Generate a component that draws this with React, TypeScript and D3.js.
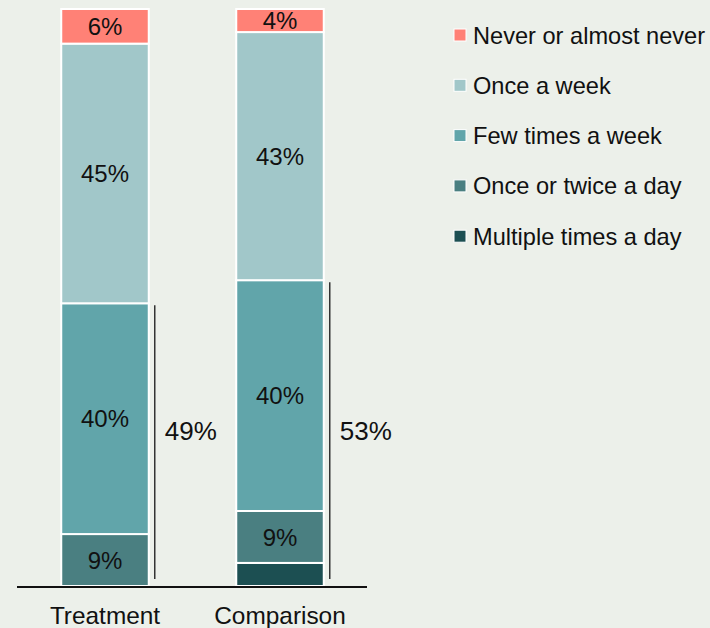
import React, { useEffect, useRef } from 'react'
import * as d3 from 'd3'

// groups and stacked shares (%), bottom to top
const groups = ['Treatment', 'Comparison']
const categories = [
  'Multiple times a day',
  'Once or twice a day',
  'Few times a week',
  'Once a week',
  'Never or almost never',
]
const colors = ['#1c4f52', '#4a7f81', '#61a5aa', '#a1c7c9', '#ff8176']
const treatment = [0, 9, 40, 45, 6]
const comparison = [4, 9, 40, 43, 4]
// how many bottom categories are summed in the bracket
const bracketCount = 3

export default function App() {
  const svgRef = useRef<SVGSVGElement>(null)

  useEffect(() => {
    const width = 710
    const height = 628
    const font = '"Liberation Sans", Arial, sans-serif'

    const svg = d3.select(svgRef.current)
    svg.selectAll('*').remove()
    svg.attr('width', width).attr('height', height).style('display', 'block')

    svg.append('rect').attr('width', width).attr('height', height).attr('fill', '#ecf0ea')

    const x = d3.scaleBand().domain(groups).range([17.5, 367.5]).paddingInner(0.5).paddingOuter(0.25)
    const y = d3.scaleLinear().domain([0, 100]).range([586, 9])

    const rows = groups.map((g, gi) => {
      const vals = gi === 0 ? treatment : comparison
      const row: any = { group: g }
      categories.forEach((c, i) => (row[c] = vals[i]))
      return row
    })
    const series = d3.stack().keys(categories)(rows)

    const layer = svg
      .selectAll('g.layer')
      .data(series)
      .enter()
      .append('g')
      .attr('class', 'layer')
      .attr('fill', (_, i) => colors[i])

    layer
      .selectAll('rect')
      .data((s) => s.map((d) => ({ d, key: s.key })))
      .enter()
      .filter((p) => p.d[1] - p.d[0] > 0)
      .append('rect')
      .attr('x', (p) => x(p.d.data.group as any)!)
      .attr('width', x.bandwidth())
      .attr('y', (p) => y(p.d[1]))
      .attr('height', (p) => y(p.d[0]) - y(p.d[1]))
      .attr('stroke', '#ffffff')
      .attr('stroke-width', 2)

    layer
      .selectAll('text')
      .data((s) => s.map((d) => ({ d, key: s.key })))
      .enter()
      .filter((p) => p.d[1] - p.d[0] >= 5 || (p.d[1] - p.d[0] >= 4 && p.key === categories[4]))
      .append('text')
      .attr('x', (p) => x(p.d.data.group as any)! + x.bandwidth() / 2)
      .attr('y', (p) => (y(p.d[0]) + y(p.d[1])) / 2)
      .attr('dy', '0.36em')
      .attr('text-anchor', 'middle')
      .attr('fill', '#111')
      .style('font-family', font)
      .style('font-size', '24px')
      .text((p) => `${p.d[1] - p.d[0]}%`)

    // brackets
    groups.forEach((g, gi) => {
      const vals = gi === 0 ? treatment : comparison
      const total = d3.sum(vals.slice(0, bracketCount))
      const lx = x(g)! + x.bandwidth() + 6
      svg
        .append('line')
        .attr('x1', lx)
        .attr('x2', lx)
        .attr('y1', y(total) + 2)
        .attr('y2', y(0) - 7)
        .attr('stroke', '#333')
        .attr('stroke-width', 1.5)
      svg
        .append('text')
        .attr('x', lx + 10)
        .attr('y', y(27))
        .attr('dy', '0.36em')
        .attr('fill', '#111')
        .style('font-family', font)
        .style('font-size', '26px')
        .text(`${total}%`)
    })

    // baseline
    svg
      .append('line')
      .attr('x1', 17)
      .attr('x2', 367)
      .attr('y1', y(0) + 1)
      .attr('y2', y(0) + 1)
      .attr('stroke', '#111')
      .attr('stroke-width', 2)

    // group labels
    svg
      .selectAll('text.glabel')
      .data(groups)
      .enter()
      .append('text')
      .attr('class', 'glabel')
      .attr('x', (g) => x(g)! + x.bandwidth() / 2)
      .attr('y', 624)
      .attr('text-anchor', 'middle')
      .attr('fill', '#111')
      .style('font-family', font)
      .style('font-size', '24.4px')
      .text((g) => g)

    // legend, top to bottom
    const legendItems = categories.map((c, i) => ({ c, color: colors[i] })).reverse()
    const leg = svg
      .selectAll('g.leg')
      .data(legendItems)
      .enter()
      .append('g')
      .attr('class', 'leg')
      .attr('transform', (_, i) => `translate(454, ${35 + i * 50.3})`)
    leg
      .append('rect')
      .attr('x', 0)
      .attr('y', -6)
      .attr('width', 12)
      .attr('height', 12)
      .attr('fill', (d) => d.color)
      .attr('stroke', '#fff')
      .attr('stroke-width', 1)
    leg
      .append('text')
      .attr('x', 19)
      .attr('dy', '0.36em')
      .attr('fill', '#111')
      .style('font-family', font)
      .style('font-size', '23.6px')
      .text((d) => d.c)
  }, [])

  return <svg ref={svgRef} style={{ position: 'absolute', left: 0, top: 0 }} />
}
